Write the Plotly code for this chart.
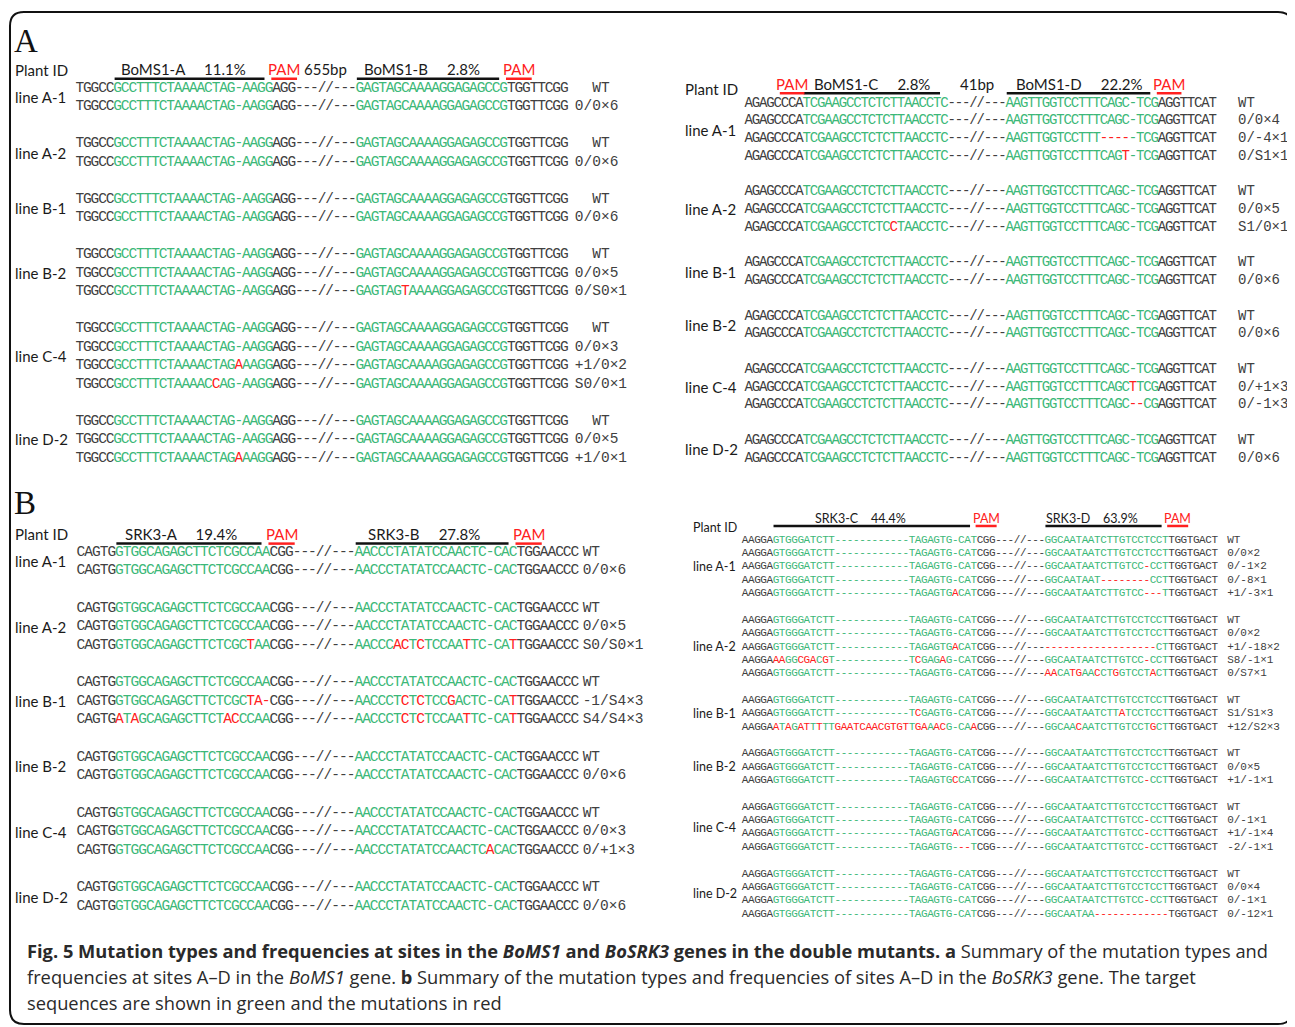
import plotly.graph_objects as go

# reference canvas is 1295x1027; the page body adds an 8px margin, so every
# reference pixel position is shifted by OFF when it is turned into paper units
REF_W, REF_H, OFF = 1295, 1027, 8
W, H = REF_W - OFF, REF_H - OFF
GRAY, GREEN, RED, INK = "#404040", "#3cb878", "#ff2020", "#1a1a1a"
SEQ_FONT = "Liberation Mono"
SANS = "Lato"
NB = "\u00a0"

# ---------------- data ----------------
# markup: lowercase letter = mutated base (red), "_" = deleted base (red dash)
# ---- Panel A, left (BoMS1 sites A/B)
A1_LINES = ["line A-1", "line A-2", "line B-1", "line B-2", "line C-4", "line D-2"]
A1_WT = "TGGCCGCCTTTCTAAAACTAG-AAGGAGG---//---GAGTAGCAAAAGGAGAGCCGTGGTTCGG"
A1_ROWS = [
    [A1_WT, A1_WT],
    [A1_WT, A1_WT],
    [A1_WT, A1_WT],
    [A1_WT, A1_WT,
     "TGGCCGCCTTTCTAAAACTAG-AAGGAGG---//---GAGTAGtAAAAGGAGAGCCGTGGTTCGG"],
    [A1_WT, A1_WT,
     "TGGCCGCCTTTCTAAAACTAGaAAGGAGG---//---GAGTAGCAAAAGGAGAGCCGTGGTTCGG",
     "TGGCCGCCTTTCTAAAACcAG-AAGGAGG---//---GAGTAGCAAAAGGAGAGCCGTGGTTCGG"],
    [A1_WT, A1_WT,
     "TGGCCGCCTTTCTAAAACTAGaAAGGAGG---//---GAGTAGCAAAAGGAGAGCCGTGGTTCGG"],
]
A1_TYPES = [["WT", "0/0×6"], ["WT", "0/0×6"], ["WT", "0/0×6"],
            ["WT", "0/0×5", "0/S0×1"], ["WT", "0/0×3", "+1/0×2", "S0/0×1"],
            ["WT", "0/0×5", "+1/0×1"]]
A1_NAMES = ["BoMS1-A", "BoMS1-B"]
A1_PCTS = ["11.1%", "2.8%"]
A1_TARGET_COLS = [(5, 25), (37, 56)]
A1_PAM_COLS = [(26, 28), (57, 59)]
A1_GAP = "655bp"
A1_GAP_COLS = (29, 36)

# ---- Panel A, right (BoMS1 sites C/D)
A2_LINES = ["line A-1", "line A-2", "line B-1", "line B-2", "line C-4", "line D-2"]
A2_WT = "AGAGCCCATCGAAGCCTCTCTTAACCTC---//---AAGTTGGTCCTTTCAGC-TCGAGGTTCAT"
A2_ROWS = [
    [A2_WT, A2_WT,
     "AGAGCCCATCGAAGCCTCTCTTAACCTC---//---AAGTTGGTCCTTT____-TCGAGGTTCAT",
     "AGAGCCCATCGAAGCCTCTCTTAACCTC---//---AAGTTGGTCCTTTCAGt-TCGAGGTTCAT"],
    [A2_WT, A2_WT,
     "AGAGCCCATCGAAGCCTCTCcTAACCTC---//---AAGTTGGTCCTTTCAGC-TCGAGGTTCAT"],
    [A2_WT, A2_WT],
    [A2_WT, A2_WT],
    [A2_WT,
     "AGAGCCCATCGAAGCCTCTCTTAACCTC---//---AAGTTGGTCCTTTCAGCtTCGAGGTTCAT",
     "AGAGCCCATCGAAGCCTCTCTTAACCTC---//---AAGTTGGTCCTTTCAGC__CGAGGTTCAT"],
    [A2_WT, A2_WT],
]
A2_TYPES = [["WT", "0/0×4", "0/-4×1", "0/S1×1"], ["WT", "0/0×5", "S1/0×1"],
            ["WT", "0/0×6"], ["WT", "0/0×6"], ["WT", "0/+1×3", "0/-1×3"],
            ["WT", "0/0×6"]]
A2_NAMES = ["BoMS1-C", "BoMS1-D"]
A2_PCTS = ["2.8%", "22.2%"]
A2_TARGET_COLS = [(8, 27), (36, 56)]
A2_PAM_COLS = [(5, 7), (57, 59)]
A2_GAP = "41bp"
A2_GAP_COLS = (28, 35)

# ---- Panel B, left (BoSRK3 sites A/B)
B1_LINES = ["line A-1", "line A-2", "line B-1", "line B-2", "line C-4", "line D-2"]
B1_WT = "CAGTGGTGGCAGAGCTTCTCGCCAACGG---//---AACCCTATATCCAACTC-CACTGGAACCC"
B1_ROWS = [
    [B1_WT, B1_WT],
    [B1_WT, B1_WT,
     "CAGTGGTGGCAGAGCTTCTCGCtAACGG---//---AACCCacTcTCCAAtTC-CAtTGGAACCC"],
    [B1_WT,
     "CAGTGGTGGCAGAGCTTCTCGCta_CGG---//---AACCCTcTcTCCgACTC-CAtTGGAACCC",
     "CAGTGaTaGCAGAGCTTCTacCCAACGG---//---AACCCTcTcTCCAAtTC-CAtTGGAACCC"],
    [B1_WT, B1_WT],
    [B1_WT, B1_WT,
     "CAGTGGTGGCAGAGCTTCTCGCCAACGG---//---AACCCTATATCCAACTCaCACTGGAACCC"],
    [B1_WT, B1_WT],
]
B1_TYPES = [["WT", "0/0×6"], ["WT", "0/0×5", "S0/S0×1"],
            ["WT", "-1/S4×3", "S4/S4×3"], ["WT", "0/0×6"],
            ["WT", "0/0×3", "0/+1×3"], ["WT", "0/0×6"]]
B1_NAMES = ["SRK3-A", "SRK3-B"]
B1_PCTS = ["19.4%", "27.8%"]
B1_TARGET_COLS = [(5, 24), (36, 56)]
B1_PAM_COLS = [(25, 27), (57, 59)]

# ---- Panel B, right (BoSRK3 sites C/D)
B2_LINES = ["line A-1", "line A-2", "line B-1", "line B-2", "line C-4", "line D-2"]
B2_WT = "AAGGAGTGGGATCTT------------TAGAGTG-CATCGG---//---GGCAATAATCTTGTCCTCCTTGGTGACT"
B2_ROWS = [
    [B2_WT, B2_WT,
     "AAGGAGTGGGATCTT------------TAGAGTG-CATCGG---//---GGCAATAATCTTGTCC_CCTTGGTGACT",
     "AAGGAGTGGGATCTT------------TAGAGTG-CATCGG---//---GGCAATAAT________CCTTGGTGACT",
     "AAGGAGTGGGATCTT------------TAGAGTGaCATCGG---//---GGCAATAATCTTGTCC___TTGGTGACT"],
    [B2_WT, B2_WT,
     "AAGGAGTGGGATCTT------------TAGAGTGaCATCGG---//---__________________CTTGGTGACT",
     "AAGGAaaGGcgaCgT------------TcGAGaG-CATCGG---//---GGCAATAATCTTGTCC_CCTTGGTGACT",
     "AAGGAGTGGGATCTT------------TAGAGTG-CATCGG---//---aaCAtgAAcCTgGTCCTaCTTGGTGACT"],
    [B2_WT,
     "AAGGAGTGGGATCTT------------TcGAGTG-CATCGG---//---GGCAATAATCTTaTCCTCCTTGGTGACT",
     "AAGGAaTaGatTtTTgaatcaacgtgtTgaAacG-CAaCGG---//---GGCAAcAATCTTGTCCTgCTTGGTGACT"],
    [B2_WT, B2_WT,
     "AAGGAGTGGGATCTT------------TAGAGTGcCATCGG---//---GGCAATAATCTTGTCC_CCTTGGTGACT"],
    [B2_WT,
     "AAGGAGTGGGATCTT------------TAGAGTG-CATCGG---//---GGCAATAATCTTGTCC_CCTTGGTGACT",
     "AAGGAGTGGGATCTT------------TAGAGTGaCATCGG---//---GGCAATAATCTTGTCC_CCTTGGTGACT",
     "AAGGAGTGGGATCTT------------TAGAGTG-__TCGG---//---GGCAATAATCTTGTCC_CCTTGGTGACT"],
    [B2_WT, B2_WT,
     "AAGGAGTGGGATCTT------------TAGAGTG-CATCGG---//---GGCAATAATCTTGTCC_CCTTGGTGACT",
     "AAGGAGTGGGATCTT------------TAGAGTG-CATCGG---//---GGCAATAA____________TGGTGACT"],
]
B2_TYPES = [["WT", "0/0×2", "0/-1×2", "0/-8×1", "+1/-3×1"],
            ["WT", "0/0×2", "+1/-18×2", "S8/-1×1", "0/S7×1"],
            ["WT", "S1/S1×3", "+12/S2×3"], ["WT", "0/0×5", "+1/-1×1"],
            ["WT", "0/-1×1", "+1/-1×4", "-2/-1×1"],
            ["WT", "0/0×4", "0/-1×1", "0/-12×1"]]
B2_NAMES = ["SRK3-C", "SRK3-D"]
B2_PCTS = ["44.4%", "63.9%"]
B2_TARGET_COLS = [(5, 37), (49, 68)]
B2_PAM_COLS = [(38, 40), (69, 71)]

CAPTION = [
    "<b>Fig. 5 Mutation types and frequencies at sites in the <i>BoMS1</i> and <i>BoSRK3</i> "
    "genes in the double mutants. a</b> Summary of the mutation types and",
    "frequencies at sites A–D in the <i>BoMS1</i> gene. <b>b</b> Summary of the mutation types "
    "and frequencies of sites A–D in the <i>BoSRK3</i> gene. The target",
    "sequences are shown in green and the mutations in red",
]

# ---------------- layout of the four blocks (reference pixels) ----------------
PANELS = [
    dict(lines=A1_LINES, rows=A1_ROWS, types=A1_TYPES, names=A1_NAMES, pcts=A1_PCTS,
         tcols=A1_TARGET_COLS, pams=A1_PAM_COLS, gap=A1_GAP, gapcols=A1_GAP_COLS,
         box=(11, 666, 50, 472), x0=76, cw=7.57, y0=88, dy=18.5, fs=14.5, lfs=15,
         label_px=13, type_col=65.4, wt_pad=2, head=-1.0, line=-0.5, pid=-0.95, sep=5,
         name_shift=-0.8),
    dict(lines=A2_LINES, rows=A2_ROWS, types=A2_TYPES, names=A2_NAMES, pcts=A2_PCTS,
         tcols=A2_TARGET_COLS, pams=A2_PAM_COLS, gap=A2_GAP, gapcols=A2_GAP_COLS,
         box=(667, 1291, 50, 472), x0=745, cw=7.25, y0=103, dy=17.75, fs=14, lfs=15,
         label_px=683, type_col=67.5, wt_pad=0, head=-1.05, line=-0.55, pid=-0.8, sep=5,
         name_shift=0.0),
    dict(lines=B1_LINES, rows=B1_ROWS, types=B1_TYPES, names=B1_NAMES, pcts=B1_PCTS,
         tcols=B1_TARGET_COLS, pams=B1_PAM_COLS, gap=None, gapcols=None,
         box=(11, 676, 480, 922), x0=77, cw=7.72, y0=552, dy=18.65, fs=14.5, lfs=15,
         label_px=13, type_col=65.0, wt_pad=0, head=-0.97, line=-0.45, pid=-0.95, sep=5,
         name_shift=-1.0),
    dict(lines=B2_LINES, rows=B2_ROWS, types=B2_TYPES, names=B2_NAMES, pcts=B2_PCTS,
         tcols=B2_TARGET_COLS, pams=B2_PAM_COLS, gap=None, gapcols=None,
         box=(677, 1291, 480, 922), x0=742, cw=6.18, y0=540, dy=13.35, fs=11, lfs=12.5,
         label_px=691, type_col=78.0, wt_pad=0, head=-1.6, line=-1.05, pid=-0.9, sep=4,
         name_shift=-1.9),
]


def char_style(ch, i, greens):
    if ch == "_":
        return "-", RED
    if ch.islower():
        return ch.upper(), RED
    if any(a <= i <= b for a, b in greens):
        return ch, GREEN
    return ch, GRAY


def group_slots(rows):
    out, s = [], 0
    for g in rows:
        out.append(list(range(s, s + len(g))))
        s += len(g) + 1
    return out


def fx(px):  # reference x pixel -> paper fraction
    return (px - OFF) / W


def fy(py):  # reference y pixel -> paper fraction
    return 1 - (py - OFF) / H


fig = go.Figure()
annotations, shapes = [], []
layout_axes = {}

for k, p in enumerate(PANELS, start=1):
    xr_id = "x" if k == 1 else f"x{k}"
    yr_id = "y" if k == 1 else f"y{k}"
    L, R, T, B = p["box"]
    x0, cw, y0, dy = p["x0"], p["cw"], p["y0"], p["dy"]
    layout_axes["xaxis" if k == 1 else f"xaxis{k}"] = dict(
        domain=[fx(L), fx(R)], range=[(L - x0) / cw - 0.5, (R - x0) / cw - 0.5],
        visible=False, fixedrange=True, anchor=yr_id)
    layout_axes["yaxis" if k == 1 else f"yaxis{k}"] = dict(
        domain=[fy(B), fy(T)], range=[(B - y0) / dy, (T - y0) / dy],
        visible=False, fixedrange=True, anchor=xr_id)

    slots = group_slots(p["rows"])
    xs, ys, txt, cols = [], [], [], []
    tx, ty, tt = [], [], []
    for grp, typ, sl in zip(p["rows"], p["types"], slots):
        for seq, t, s in zip(grp, typ, sl):
            for i, ch in enumerate(seq):
                c, col = char_style(ch, i, p["tcols"])
                xs.append(i)
                ys.append(s)
                txt.append(c)
                cols.append(col)
            tx.append(p["type_col"])
            ty.append(s)
            tt.append((NB * p["wt_pad"] + t) if t == "WT" else t)

    fig.add_trace(go.Scatter(
        x=xs, y=ys, text=txt, mode="text", xaxis=xr_id, yaxis=yr_id,
        textfont=dict(family=SEQ_FONT, size=p["fs"], color=cols),
        hoverinfo="skip", showlegend=False, cliponaxis=False))
    fig.add_trace(go.Scatter(
        x=tx, y=ty, text=tt, mode="text", textposition="middle right",
        xaxis=xr_id, yaxis=yr_id,
        textfont=dict(family=SEQ_FONT, size=p["fs"], color=GRAY),
        hoverinfo="skip", showlegend=False, cliponaxis=False))

    lab_x = (p["label_px"] - x0) / cw - 0.5
    annotations.append(dict(x=lab_x, y=p["pid"], xref=xr_id, yref=yr_id, text="Plant ID",
                            xanchor="left", yanchor="middle", showarrow=False,
                            font=dict(family=SANS, size=p["lfs"], color=INK)))
    for name, sl in zip(p["lines"], slots):
        annotations.append(dict(x=lab_x, y=sum(sl) / len(sl), xref=xr_id, yref=yr_id,
                                text=name, xanchor="left", yanchor="middle",
                                showarrow=False,
                                font=dict(family=SANS, size=p["lfs"], color=INK)))
    for name, pct, (a, b) in zip(p["names"], p["pcts"], p["tcols"]):
        xa, xb = a - 0.4, b - 0.6
        shapes.append(dict(type="line", xref=xr_id, yref=yr_id, x0=xa, x1=xb,
                           y0=p["line"], y1=p["line"], line=dict(color="#111", width=2.5)))
        annotations.append(dict(x=(xa + xb) / 2 + p["name_shift"], y=p["head"],
                                xref=xr_id, yref=yr_id,
                                text=name + NB * p["sep"] + pct, showarrow=False,
                                xanchor="center", yanchor="middle",
                                font=dict(family=SANS, size=p["lfs"], color=INK)))
    for a, b in p["pams"]:
        shapes.append(dict(type="line", xref=xr_id, yref=yr_id, x0=a - 0.7, x1=b + 0.7,
                           y0=p["line"], y1=p["line"], line=dict(color=RED, width=2.5)))
        annotations.append(dict(x=(a + b) / 2, y=p["head"], xref=xr_id, yref=yr_id,
                                text="PAM", showarrow=False, xanchor="center",
                                yanchor="middle",
                                font=dict(family=SANS, size=p["lfs"], color=RED)))
    if p["gap"]:
        a, b = p["gapcols"]
        annotations.append(dict(x=(a + b) / 2, y=p["head"], xref=xr_id, yref=yr_id,
                                text=p["gap"], showarrow=False, xanchor="center",
                                yanchor="middle",
                                font=dict(family=SANS, size=p["lfs"], color=INK)))

# panel letters
for letter, py in (("A", 41), ("B", 503)):
    annotations.append(dict(x=fx(12), y=fy(py), xref="paper", yref="paper",
                            text=letter, xanchor="left", yanchor="middle", showarrow=False,
                            font=dict(family="Liberation Serif", size=33, color="#111")))

# caption
for line, py in zip(CAPTION, (950, 976, 1002)):
    annotations.append(dict(x=fx(25), y=fy(py), xref="paper", yref="paper",
                            text=line, xanchor="left", yanchor="middle", showarrow=False,
                            font=dict(family="Open Sans", size=18.3, color="#2a2a2a")))


# rounded frame
def P(x, y):
    return f"{fx(x):.5f},{fy(y):.5f}"


l, t, r, b, rad = 10, 12, 1292, 1024, 14
path = (f"M {P(l + rad, t)} L {P(r - rad, t)} Q {P(r, t)} {P(r, t + rad)} "
        f"L {P(r, b - rad)} Q {P(r, b)} {P(r - rad, b)} L {P(l + rad, b)} "
        f"Q {P(l, b)} {P(l, b - rad)} L {P(l, t + rad)} Q {P(l, t)} {P(l + rad, t)} Z")
shapes.append(dict(type="path", xref="paper", yref="paper", path=path,
                   line=dict(color="#111", width=2)))

fig.update_layout(width=W, height=H, margin=dict(l=0, r=0, t=0, b=0),
                  paper_bgcolor="white", plot_bgcolor="white",
                  annotations=annotations, shapes=shapes, showlegend=False,
                  **layout_axes)

fig.write_html("out.html")
